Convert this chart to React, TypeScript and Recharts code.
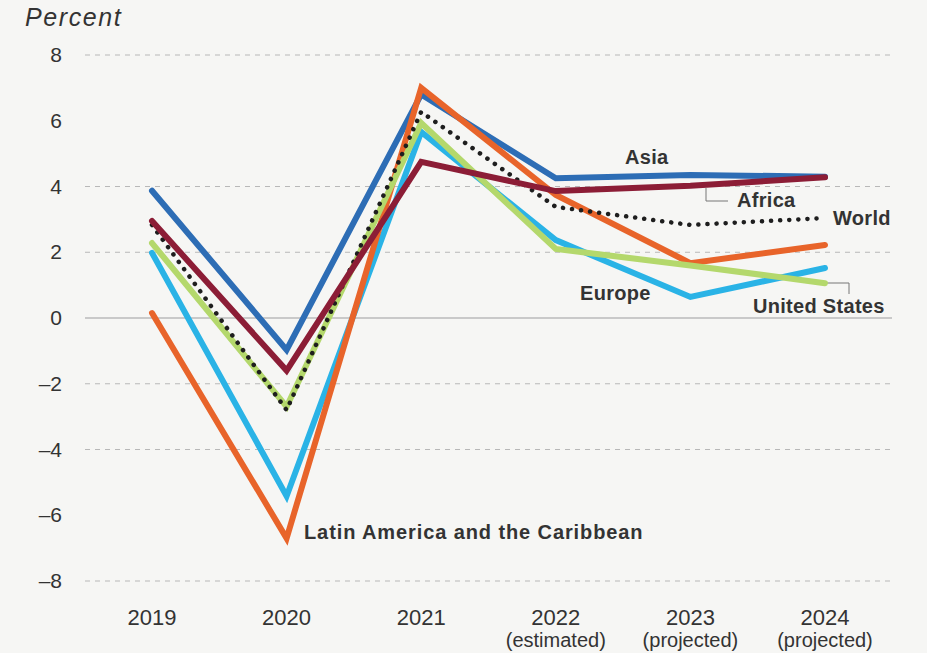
import React from 'react';
import { LineChart, Line, XAxis, YAxis, ReferenceLine, Customized } from 'recharts';

const years = ['2019', '2020', '2021', '2022', '2023', '2024'];
const yearNotes = ['', '', '', '(estimated)', '(projected)', '(projected)'];
const asia = [3.87, -0.97, 6.8, 4.25, 4.35, 4.3];
const africa = [2.95, -1.6, 4.75, 3.86, 4.02, 4.28];
const world = [2.83, -2.8, 6.27, 3.38, 2.83, 3.04];
const latinAmerica = [0.15, -6.7, 7.0, 3.74, 1.67, 2.22];
const europe = [1.98, -5.42, 5.66, 2.37, 0.64, 1.52];
const unitedStates = [2.28, -2.7, 5.93, 2.1, 1.6, 1.06];
const yTicks = [-8, -6, -4, -2, 0, 2, 4, 6, 8];
const dashedGrid = [8, 4, 2, -2, -4, -8];

const data = years.map((y, i) => ({
  year: y,
  note: yearNotes[i],
  asia: asia[i],
  africa: africa[i],
  world: world[i],
  latinAmerica: latinAmerica[i],
  europe: europe[i],
  unitedStates: unitedStates[i],
}));

const FONT = '"Liberation Sans", Arial, Helvetica, sans-serif';
const TXT = '#333333';

const XTick = (props: any) => {
  const { x, payload, index } = props;
  return (
    <g>
      <text x={x} y={625} textAnchor="middle" fontFamily={FONT} fontSize={22} fill={TXT}>
        {payload.value}
      </text>
      {yearNotes[index] ? (
        <text x={x} y={647} textAnchor="middle" fontFamily={FONT} fontSize={20} fill={TXT}>
          {yearNotes[index]}
        </text>
      ) : null}
    </g>
  );
};

const YTick = (props: any) => {
  const { y, payload } = props;
  const v = payload.value as number;
  const label = v < 0 ? '\u2013' + Math.abs(v) : String(v);
  return (
    <text x={62} y={y} dy={7} textAnchor="end" fontFamily={FONT} fontSize={21} fill={TXT}>
      {label}
    </text>
  );
};

const labelStyle = { fontFamily: FONT, fontSize: 20, fontWeight: 700, fill: TXT, letterSpacing: 0.9 } as any;

const Annotations = () => (
  <g>
    <text x={25} y={26} fontFamily={FONT} fontSize={25} fontStyle="italic" fill={TXT} letterSpacing={1.6}>
      Percent
    </text>
    <text x={625} y={164} {...labelStyle} letterSpacing={0.3}>Asia</text>
    <polyline points="706,188 706,201 728,201" fill="none" stroke="#777" strokeWidth={1} />
    <text x={737} y={207} {...labelStyle} letterSpacing={0.3}>Africa</text>
    <text x={833} y={225} {...labelStyle} letterSpacing={0.3}>World</text>
    <text x={580} y={300} {...labelStyle} letterSpacing={0.3}>Europe</text>
    <polyline points="827,283 849,283 849,294" fill="none" stroke="#777" strokeWidth={1} />
    <text x={753} y={313} {...labelStyle} letterSpacing={0.3}>United States</text>
    <text x={304} y={539} {...labelStyle}>Latin America and the Caribbean</text>
  </g>
);

export default function App() {
  return (
    <div style={{ position: 'absolute', left: 0, top: 0, width: 927, height: 653, background: '#f6f6f4' }}>
      <LineChart width={927} height={653} data={data} margin={{ top: 55, right: 35, bottom: 0, left: 0 }}>
        <XAxis dataKey="year" axisLine={false} tickLine={false} height={72} tick={<XTick />} interval={0} padding={{ left: 67, right: 67 }} />
        <YAxis domain={[-8, 8]} ticks={yTicks} axisLine={false} tickLine={false} width={85} tick={<YTick />} interval={0} />
        {dashedGrid.map((v) => (
          <ReferenceLine key={'g' + v} y={v} stroke="#b8b8b8" strokeWidth={1} strokeDasharray="5 5" />
        ))}
        <ReferenceLine y={0} stroke="#c9c9c9" strokeWidth={2} />
        <Line dataKey="europe" stroke="#2ab3e6" strokeWidth={6} dot={false} activeDot={false} isAnimationActive={false} strokeLinecap="round" />
        <Line dataKey="asia" stroke="#2d6db5" strokeWidth={6} dot={false} activeDot={false} isAnimationActive={false} strokeLinecap="round" />
        <Line dataKey="latinAmerica" stroke="#e8642a" strokeWidth={6} dot={false} activeDot={false} isAnimationActive={false} strokeLinecap="round" />
        <Line dataKey="unitedStates" stroke="#b4d86c" strokeWidth={6} dot={false} activeDot={false} isAnimationActive={false} strokeLinecap="round" />
        <Line dataKey="world" stroke="#1e1e1e" strokeWidth={4.5} strokeDasharray="0.1 9" strokeLinecap="round" dot={false} activeDot={false} isAnimationActive={false} />
        <Line dataKey="africa" stroke="#8c1d36" strokeWidth={6} dot={false} activeDot={false} isAnimationActive={false} strokeLinecap="round" />
        <Customized component={Annotations} />
      </LineChart>
    </div>
  );
}
